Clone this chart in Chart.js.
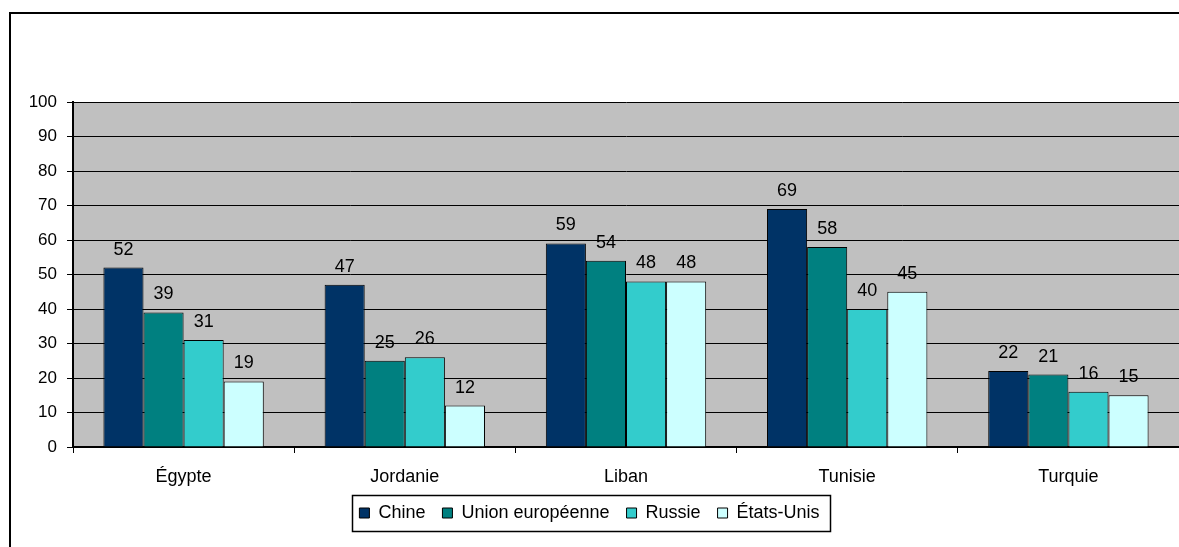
<!DOCTYPE html>
<html>
<head>
<meta charset="utf-8">
<script src="https://cdn.jsdelivr.net/npm/chart.js@4"></script>
<style>
  html, body { margin: 0; padding: 0; background: #fff; }
  #wrap { position: relative; width: 1179px; height: 547px; }
</style>
</head>
<body>
<div id="wrap"><canvas id="chart" width="1179" height="547"></canvas></div>
<script>
// Data
const countries = ['Égypte', 'Jordanie', 'Liban', 'Tunisie', 'Turquie'];
const chine = [52, 47, 59, 69, 22];
const unionEuropeenne = [39, 25, 54, 58, 21];
const russie = [31, 26, 48, 40, 16];
const etatsUnis = [19, 12, 48, 45, 15];

const FONT = '"Liberation Sans", Arial, sans-serif';
const LEGEND_PAD = 17;
const LEGEND_FONT = 18;

// grey plot background + outer frame
const backdrop = {
  id: 'backdrop',
  beforeDraw(chart) {
    const { ctx, chartArea: a } = chart;
    ctx.save();
    ctx.fillStyle = '#C0C0C0';
    ctx.fillRect(a.left, a.top, a.right - a.left, a.bottom - a.top);
    ctx.strokeStyle = '#000';
    ctx.lineWidth = 2;
    ctx.strokeRect(10, 13, 3000, 3000);
    ctx.restore();
  }
};

// value labels above the bars
const valueLabels = {
  id: 'valueLabels',
  afterDatasetsDraw(chart) {
    const { ctx } = chart;
    ctx.save();
    ctx.font = '18px ' + FONT;
    ctx.fillStyle = '#000';
    ctx.textAlign = 'center';
    ctx.textBaseline = 'alphabetic';
    chart.data.datasets.forEach((ds, i) => {
      chart.getDatasetMeta(i).data.forEach((bar, j) => {
        ctx.fillText(String(ds.data[j]), bar.x, bar.y - 13);
      });
    });
    ctx.restore();
  }
};

// box around the legend items
const legendFrame = {
  id: 'legendFrame',
  afterDraw(chart) {
    const lg = chart.legend;
    if (!lg || !lg.legendHitBoxes.length) return;
    const boxes = lg.legendHitBoxes;
    const last = boxes[boxes.length - 1];
    const left = Math.round(boxes[0].left - 7);
    const right = Math.round(last.left + last.width + 10);
    const mid = boxes[0].top + boxes[0].height / 2;
    const { ctx } = chart;
    ctx.save();
    ctx.strokeStyle = '#000';
    ctx.lineWidth = 1.5;
    ctx.strokeRect(left + 0.5, Math.round(mid - 18) + 0.5, right - left, 36);
    ctx.restore();
  }
};

const makeSet = (label, data, color) => ({
  label,
  data,
  backgroundColor: color,
  borderColor: '#000',
  borderWidth: 1,
  categoryPercentage: 0.725,
  barPercentage: 1
});

new Chart(document.getElementById('chart'), {
  type: 'bar',
  data: {
    labels: countries,
    datasets: [
      makeSet('Chine', chine, '#003366'),
      makeSet('Union européenne', unionEuropeenne, '#008080'),
      makeSet('Russie', russie, '#33CCCC'),
      makeSet('États-Unis', etatsUnis, '#CCFFFF')
    ]
  },
  options: {
    responsive: false,
    animation: false,
    layout: { padding: { top: 102, left: 0, right: 0, bottom: 15 } },
    plugins: {
      tooltip: { enabled: false },
      legend: {
        position: 'bottom',
        labels: {
          boxWidth: 10,
          boxHeight: 10,
          padding: LEGEND_PAD,
          color: '#000',
          font: { family: FONT, size: LEGEND_FONT }
        }
      }
    },
    scales: {
      x: {
        afterFit(scale) { scale.height = 40; },
        grid: {
          drawOnChartArea: false,
          drawTicks: true,
          tickLength: 6,
          color: '#000'
        },
        border: { color: '#000', width: 2 },
        ticks: {
          color: '#000',
          padding: 15,
          font: { family: FONT, size: 18, lineHeight: 1 }
        }
      },
      y: {
        min: 0,
        max: 100,
        afterFit(scale) { scale.width = 73; },
        grid: {
          color: '#000',
          lineWidth: 1,
          tickLength: 6
        },
        border: { color: '#000', width: 2 },
        ticks: {
          stepSize: 10,
          color: '#000',
          padding: 10,
          font: { family: FONT, size: 17 }
        }
      }
    }
  },
  plugins: [backdrop, valueLabels, legendFrame]
});
</script>
</body>
</html>
